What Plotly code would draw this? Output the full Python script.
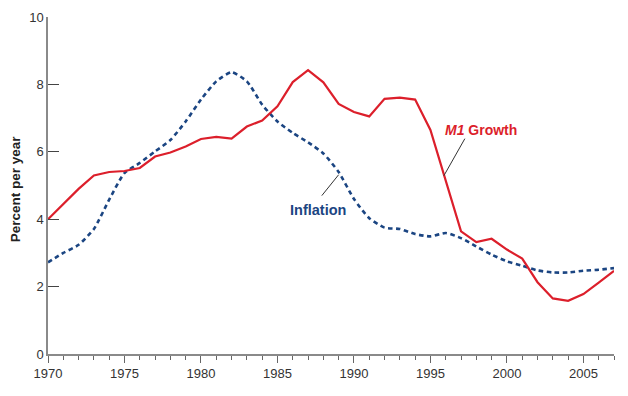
import plotly.graph_objects as go

years = list(range(1970, 2008))
m1_growth = [4.0, 4.45, 4.9, 5.3, 5.4, 5.43, 5.52, 5.86, 5.98, 6.16, 6.38, 6.44, 6.39, 6.75, 6.93,
             7.35, 8.07, 8.42, 8.06, 7.42, 7.18, 7.05, 7.57, 7.61, 7.55, 6.65, 5.15, 3.64, 3.32,
             3.42, 3.10, 2.83, 2.13, 1.65, 1.58, 1.78, 2.12, 2.47]
inflation = [2.72, 3.0, 3.24, 3.71, 4.58, 5.37, 5.67, 6.01, 6.35, 6.9, 7.55, 8.09, 8.36, 8.09, 7.4,
             6.9, 6.56, 6.28, 5.95, 5.4, 4.6, 4.03, 3.75, 3.71, 3.56, 3.49, 3.59, 3.44, 3.19,
             2.95, 2.75, 2.62, 2.48, 2.42, 2.42, 2.47, 2.50, 2.55]
y_ticks = [0, 2, 4, 6, 8, 10]
x_ticks = [1970, 1975, 1980, 1985, 1990, 1995, 2000, 2005]

RED = "#dc1f2b"
BLUE = "#1b4582"
FONT = "Liberation Sans, Arial, sans-serif"

fig = go.Figure()
fig.add_trace(go.Scatter(x=years, y=inflation, mode="lines",
                         line=dict(color=BLUE, width=2.6, dash="4.5px,3.5px", shape="spline", smoothing=0.6),
                         cliponaxis=False, showlegend=False))
fig.add_trace(go.Scatter(x=years, y=m1_growth, mode="lines",
                         line=dict(color=RED, width=2.2), cliponaxis=False, showlegend=False))

# page body has an 8px default margin, so the figure is sized and offset to compensate
fig.update_layout(
    width=620, height=388,
    margin=dict(l=40, r=14, t=9, b=42),
    paper_bgcolor="white", plot_bgcolor="white",
    font=dict(family=FONT, size=12, color="#333333"),
    xaxis=dict(range=[1970, 2007], tickvals=x_ticks, showgrid=False, zeroline=False,
               showline=True, linecolor="#8a8a8a", linewidth=1.5, automargin=False,
               ticks="outside", ticklen=7, tickwidth=1, tickcolor="#666666",
               minor=dict(dtick=1, ticks="outside", ticklen=4, tickcolor="#666666", tickwidth=1),
               tickfont=dict(size=13, color="#333333")),
    yaxis=dict(range=[0, 10], tickvals=y_ticks, showgrid=False, zeroline=False,
               showline=True, linecolor="#8a8a8a", linewidth=1.5, automargin=False,
               ticks="inside", ticklen=11, tickwidth=1, tickcolor="#444444",
               tickfont=dict(size=13, color="#333333")),
    annotations=[
        dict(x=-0.0575, y=0.49, xref="paper", yref="paper", showarrow=False, textangle=-90,
             xanchor="center", yanchor="middle",
             text="<b>Percent per year</b>", font=dict(size=13.5, color="#222222", family=FONT)),
        dict(x=1998.3, y=6.66, xref="x", yref="y", showarrow=False,
             text="<b><i>M1</i> Growth</b>", font=dict(size=14, color=RED, family=FONT)),
        dict(x=1987.65, y=4.26, xref="x", yref="y", showarrow=False,
             text="<b>Inflation</b>", font=dict(size=14.5, color=BLUE, family=FONT)),
    ],
    shapes=[
        dict(type="line", xref="x", yref="y", x0=1997.25, y0=6.39, x1=1995.88, y1=5.29,
             line=dict(color="#333333", width=1)),
        dict(type="line", xref="x", yref="y", x0=1987.9, y0=4.70, x1=1989.0, y1=5.32,
             line=dict(color="#333333", width=1)),
    ],
)

fig.write_html("out.html")
